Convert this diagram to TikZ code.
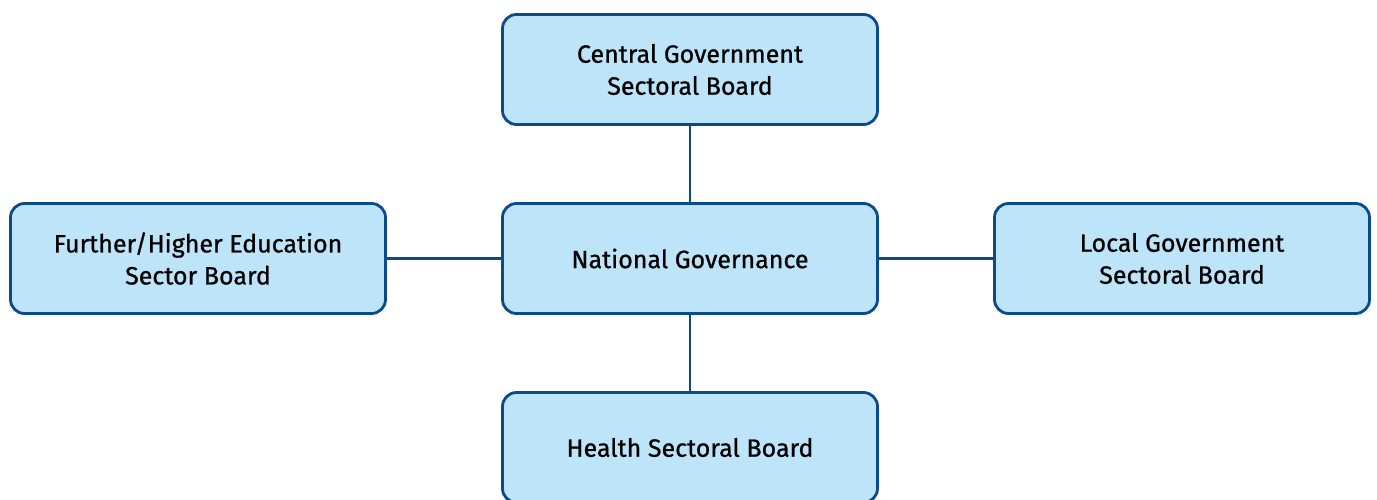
\documentclass[tikz,border=0pt]{standalone}
\usepackage{fontspec}
\setmainfont{Fira Sans}
\newfontfamily\boardfont[FakeBold=0.8]{Fira Sans}
\usetikzlibrary{positioning}
\definecolor{boardfill}{HTML}{BDE4F8}
\definecolor{boardline}{HTML}{0B4A8C}

\begin{document}
\begin{tikzpicture}[x=1pt,y=-1pt,
    board/.style={draw=boardline,fill=boardfill,line width=2.8pt,
      rounded corners=14pt,minimum width=375pt,minimum height=110pt,
      align=center,font=\boardfont\fontsize{25}{32}\selectfont},
    link/.style={draw=boardline,line width=2.8pt}]
  \useasboundingbox (0,0) rectangle (1377,500);
  % national body in the middle, sector boards round it
  \node[board] (national) at (690,258.5) {National Governance};
  \node[board] (central) at (690,69.5) {Central Government\\Sectoral Board};
  \node[board] (further) at (198,258.5) {Further/Higher Education\\Sector Board};
  \node[board] (local) at (1182,258.5) {Local Government\\Sectoral Board};
  \node[board] (health) at (690,447.5) {Health Sectoral Board};
  \draw[link] (central) -- (national);
  \draw[link] (further) -- (national);
  \draw[link] (local) -- (national);
  \draw[link] (health) -- (national);
\end{tikzpicture}
\end{document}
